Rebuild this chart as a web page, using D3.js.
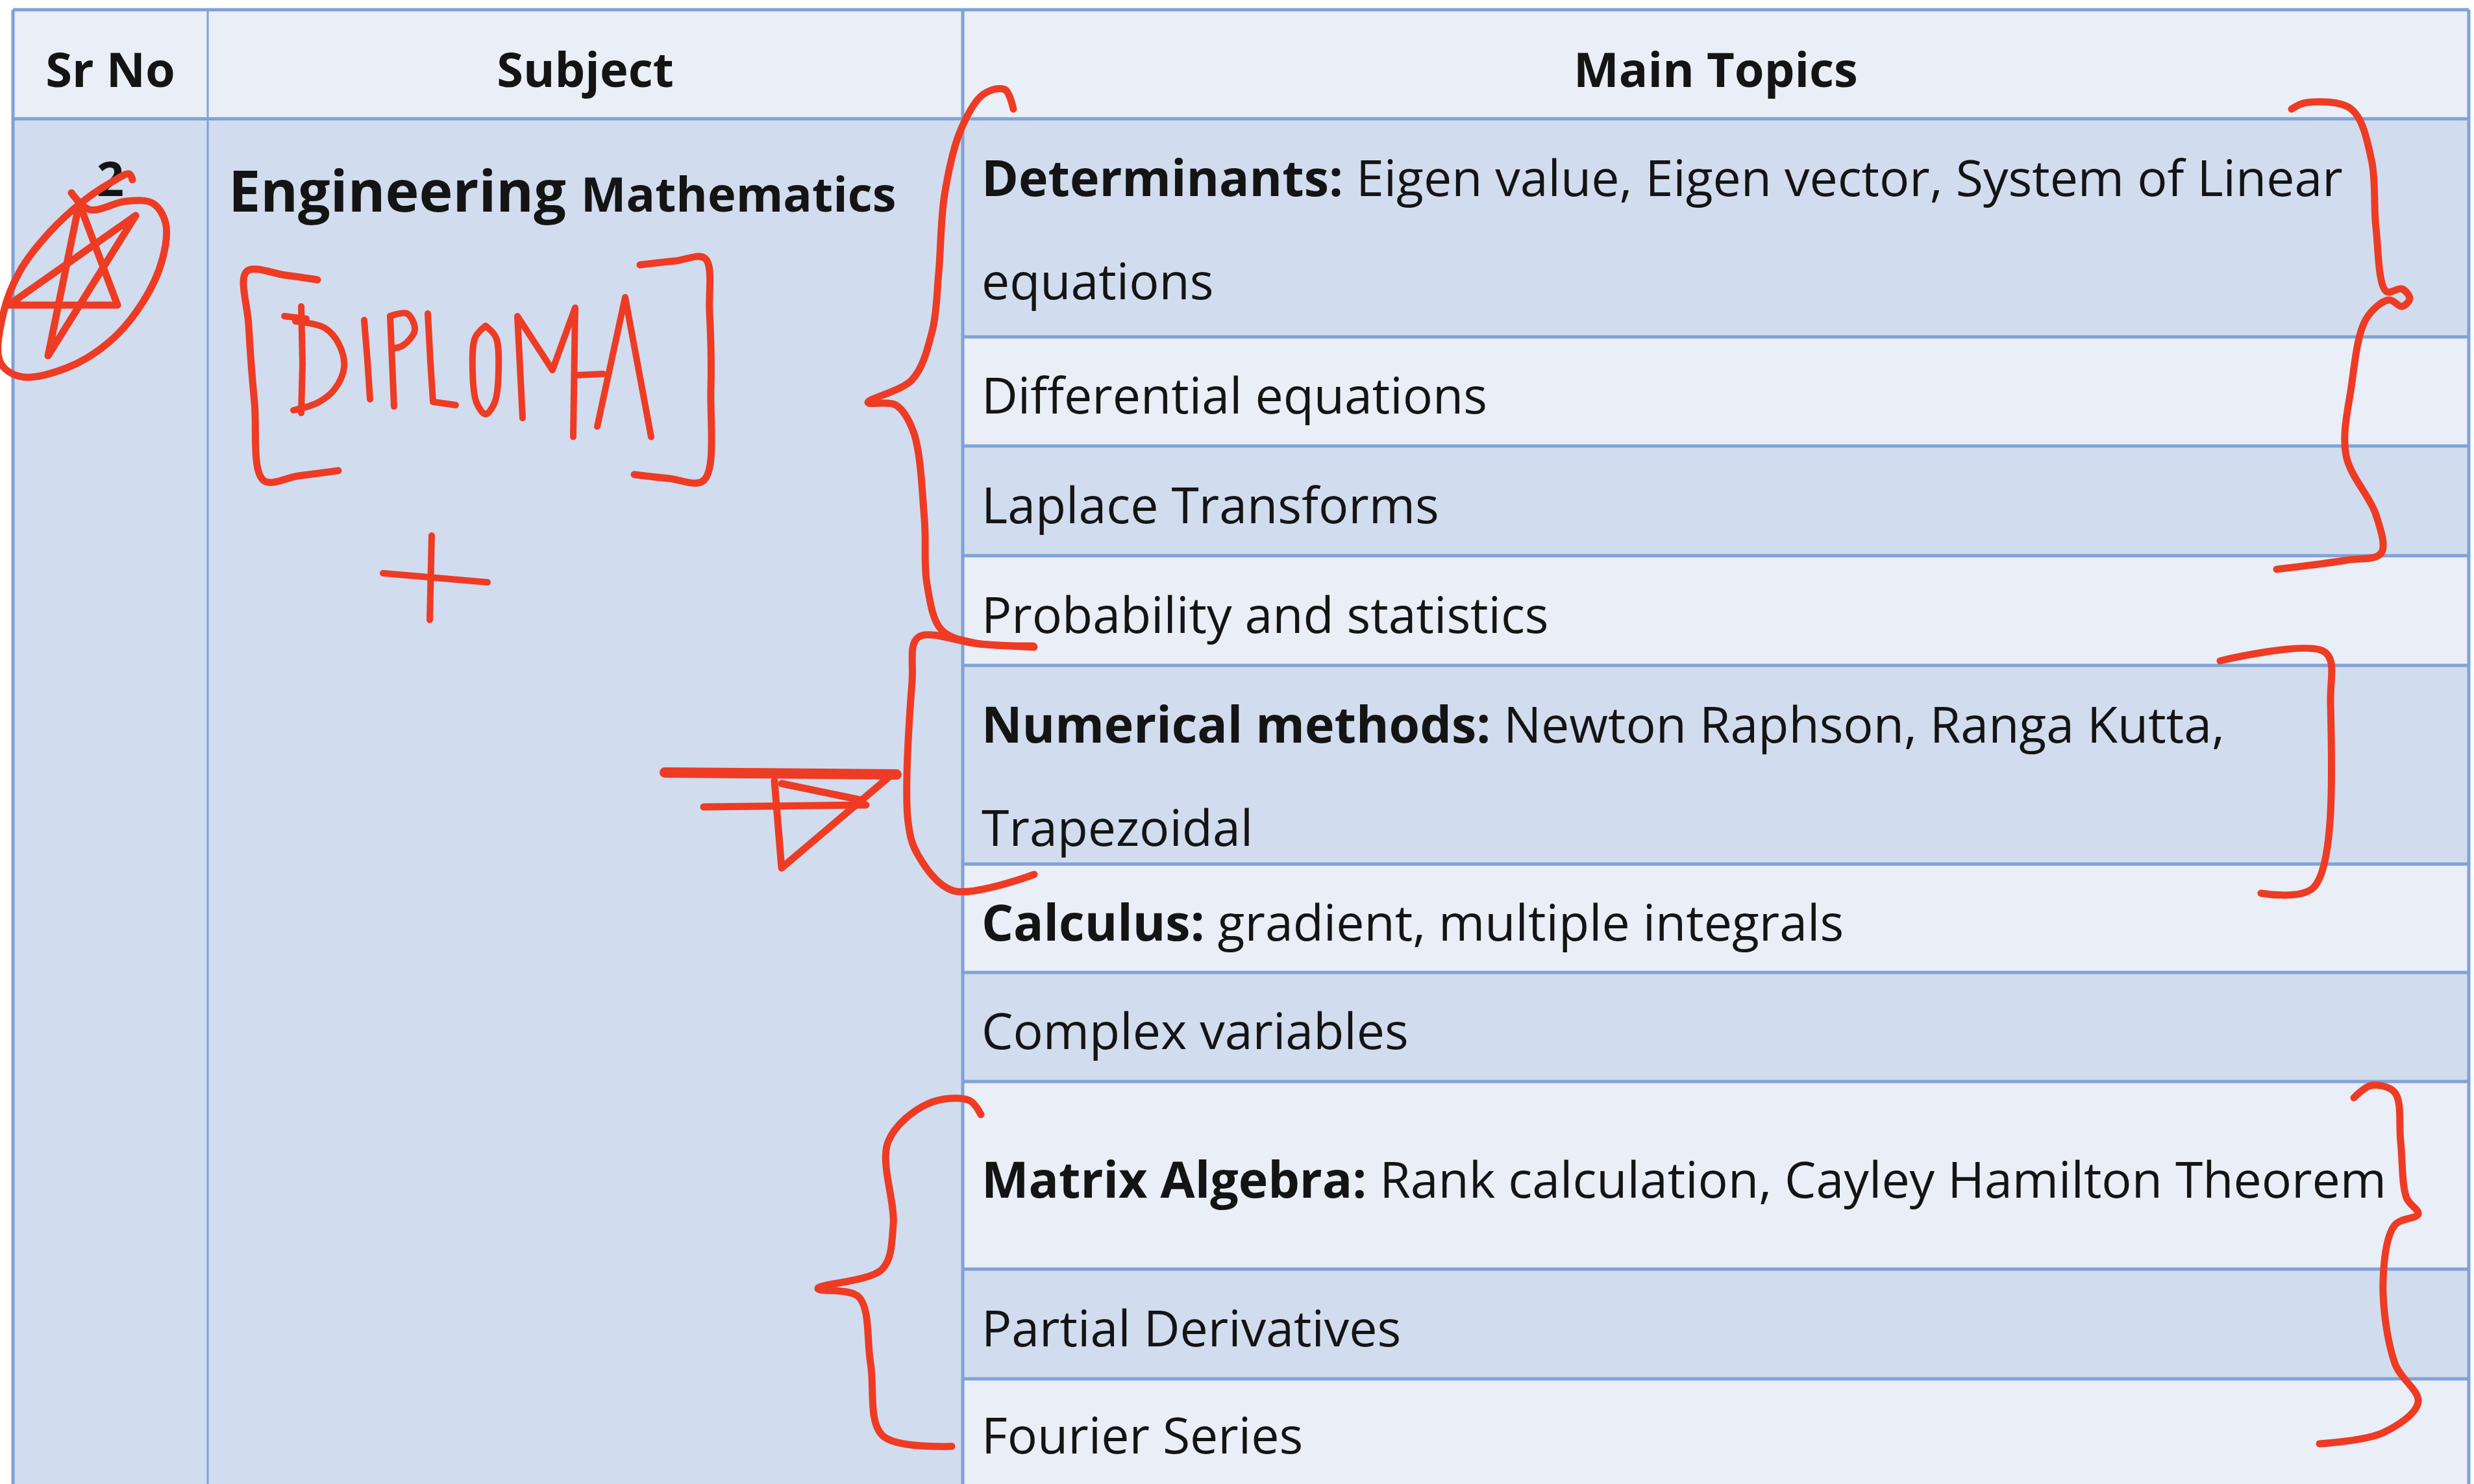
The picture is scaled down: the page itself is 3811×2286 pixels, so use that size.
<!DOCTYPE html>
<html lang="en">
<head>
<meta charset="utf-8">
<title>Engineering Mathematics - main topics</title>
<script src="https://cdn.jsdelivr.net/npm/d3@7"></script>
<style>
  html, body { margin: 0; padding: 0; background: #fff; }
  svg text { font-family: "Open Sans", Lato, sans-serif; white-space: pre; fill: #141414; }
</style>
</head>
<body>
<script>

// table content
var headers = ["Sr No", "Subject", "Main Topics"];
var srNo = "2";
var subjectWords = ["Engineering", "Mathematics"];
var topicHeads = ["Determinants:", "", "", "", "Numerical methods:", "Calculus:", "", "Matrix Algebra:", "", ""];
var topicBodies = [
  "Eigen value, Eigen vector, System of Linear\nequations",
  "Differential equations",
  "Laplace Transforms",
  "Probability and statistics",
  "Newton Raphson, Ranga Kutta,\nTrapezoidal",
  "gradient, multiple integrals",
  "Complex variables",
  "Rank calculation, Cayley Hamilton Theorem",
  "Partial Derivatives",
  "Fourier Series"
];

// layout
var W = 3811, H = 2286;
var colEdges = [20, 320, 1483, 3803];
var tableTop = 15, headerH = 168;
var rowHeights = [336, 168, 169, 169, 306, 167, 168, 289, 169, 162];
var lineGap = 159;
var headSize = 74, bodySize = 77;

// red pen strokes drawn over the table (picture pixels)
var ink = [
  { smooth: true, w: 11, pts: [[110,297],[138,323],[194,310],[235,313],[255,343],[250,400],[219,467],[168,527],[102,567],[31,580],[0,557],[5,483],[31,417],[77,357],[128,310],[168,283],[199,268],[204,277]] },
  { smooth: false, w: 11, pts: [[122,313],[181,470],[13,470],[209,332],[74,548],[122,313]] },
  // DIPLOMA with its brackets and the plus
  { smooth: true, w: 11, pts: [[489,431],[440,424],[380,418],[383,500],[392,620],[406,740],[460,733],[521,725]] },
  { smooth: true, w: 11, pts: [[986,408],[1040,402],[1086,398],[1093,480],[1095,600],[1084,740],[1030,737],[977,731]] },
  { smooth: false, w: 10, pts: [[464,472],[466,560],[464,636]] },
  { smooth: false, w: 10, pts: [[438,487],[472,491]] },
  { smooth: true, w: 10, pts: [[455,495],[500,505],[522,530],[530,566],[515,600],[490,620],[452,632]] },
  { smooth: false, w: 10, pts: [[561,493],[566,555],[570,615]] },
  { smooth: false, w: 10, pts: [[607,626],[601,487]] },
  { smooth: true, w: 10, pts: [[601,487],[627,483],[639,508],[621,532],[603,537]] },
  { smooth: false, w: 10, pts: [[659,483],[663,557],[667,619],[702,624]] },
  { smooth: true, w: 10, pts: [[748,502],[764,520],[768,570],[762,620],[748,638],[734,620],[728,570],[732,520],[748,502]] },
  { smooth: false, w: 10, pts: [[805,644],[797,487],[851,570],[886,474],[883,673]] },
  { smooth: false, w: 10, pts: [[920,657],[963,458],[1003,673]] },
  { smooth: false, w: 10, pts: [[886,578],[929,576]] },
  { smooth: false, w: 10, pts: [[665,825],[662,955]] },
  { smooth: false, w: 10, pts: [[590,883],[751,897]] },
  // braces and brackets around topic groups
  { smooth: true, w: 11, pts: [[1561,168],[1548,138],[1515,145],[1480,200],[1455,300],[1446,420],[1436,510],[1405,585],[1337,620],[1380,624],[1407,665],[1424,800],[1428,900],[1450,970],[1500,990],[1592,995]] },
  { smooth: true, w: 11, pts: [[3530,168],[3553,158],[3622,168],[3653,246],[3660,351],[3676,449],[3700,445],[3712,460],[3700,472],[3680,462],[3645,491],[3622,596],[3614,702],[3660,793],[3668,852],[3614,863],[3507,877]] },
  { smooth: true, w: 11, pts: [[1593,997],[1508,992],[1414,982],[1405,1050],[1399,1267],[1414,1317],[1468,1372],[1593,1347]] },
  { smooth: false, w: 16, pts: [[1024,1190],[1381,1193]] },
  { smooth: false, w: 11, pts: [[1084,1243],[1334,1240]] },
  { smooth: false, w: 11, pts: [[1193,1203],[1204,1337],[1374,1193]] },
  { smooth: false, w: 11, pts: [[1204,1207],[1329,1233]] },
  { smooth: true, w: 11, pts: [[3420,1018],[3582,1005],[3590,1078],[3564,1367],[3483,1376]] },
  { smooth: true, w: 11, pts: [[1511,1717],[1493,1695],[1430,1700],[1368,1759],[1376,1887],[1359,1955],[1260,1985],[1323,1998],[1341,2100],[1359,2211],[1466,2228]] },
  { smooth: true, w: 11, pts: [[3626,1691],[3653,1672],[3689,1683],[3698,1759],[3707,1845],[3725,1870],[3689,1887],[3671,1972],[3689,2100],[3725,2160],[3671,2207],[3573,2224]] }
];

var fillHeader = "#eaeef6", fillDark = "#d1dcee", fillLight = "#e9eef7";
var lineColor = "#7fa2d6", penColor = "#ee3b24";

var svg = d3.select("body").append("svg")
    .attr("width", W)
    .attr("height", H)
    .style("display", "block");

svg.append("rect").attr("width", W).attr("height", H).attr("fill", "#fff");

// row positions
var bodyTop = tableTop + headerH;
var tops = [bodyTop].concat(Array.from(d3.cumsum(rowHeights), function(v) { return bodyTop + v; }));
var rowY = d3.scaleOrdinal().domain(d3.range(tops.length)).range(tops);
var colX = d3.scaleOrdinal().domain(d3.range(colEdges.length)).range(colEdges);
var lastRow = topicBodies.length - 1;

// header band
svg.append("rect")
    .attr("x", colX(0)).attr("y", tableTop)
    .attr("width", colX(3) - colX(0)).attr("height", headerH)
    .attr("fill", fillHeader);

// merged Sr No / Subject cell
svg.append("rect")
    .attr("x", colX(0)).attr("y", bodyTop)
    .attr("width", colX(2) - colX(0)).attr("height", H - bodyTop)
    .attr("fill", fillDark);

// topic rows
var rows = svg.selectAll("g.topic")
    .data(topicBodies)
    .enter()
    .append("g")
    .attr("class", "topic");

rows.append("rect")
    .attr("x", colX(2))
    .attr("y", function(d, i) { return rowY(i); })
    .attr("width", colX(3) - colX(2))
    .attr("height", function(d, i) { return i === lastRow ? H - rowY(i) : rowHeights[i]; })
    .attr("fill", function(d, i) { return i % 2 === 0 ? fillDark : fillLight; });

rows.each(function(d, i) {
  var lines = d.split("\n");
  // two-line cells start near the top, single lines sit in the middle
  var first = lines.length > 1 ? rowY(i) + 119 : rowY(i) + rowHeights[i] / 2 + 34;
  var g = d3.select(this);
  lines.forEach(function(line, k) {
    var t = g.append("text")
        .attr("x", colX(2) + 29)
        .attr("y", first + k * lineGap)
        .attr("font-size", bodySize);
    if (k === 0 && topicHeads[i]) {
      t.append("tspan").attr("font-weight", 700).text(topicHeads[i] + " ");
    }
    t.append("tspan").text(line);
  });
});

// grid lines
var hLines = [tableTop].concat(tops.slice(0, -1));
svg.selectAll("line.h")
    .data(hLines)
    .enter()
    .append("line")
    .attr("x1", function(d, i) { return i < 2 ? colX(0) : colX(2); })
    .attr("x2", colX(3))
    .attr("y1", function(d) { return d; })
    .attr("y2", function(d) { return d; })
    .attr("stroke", lineColor)
    .attr("stroke-width", 5);

svg.selectAll("line.v")
    .data(colEdges)
    .enter()
    .append("line")
    .attr("x1", function(d) { return d; })
    .attr("x2", function(d) { return d; })
    .attr("y1", tableTop)
    .attr("y2", H)
    .attr("stroke", lineColor)
    .attr("stroke-width", function(d, i) { return i === 1 ? 3 : 5; });

// header labels
svg.selectAll("text.head")
    .data(headers)
    .enter()
    .append("text")
    .attr("class", "head")
    .attr("x", function(d, i) { return (colX(i) + colX(i + 1)) / 2; })
    .attr("y", tableTop + headerH / 2 + 35)
    .attr("text-anchor", "middle")
    .attr("font-size", headSize)
    .attr("font-weight", 700)
    .text(function(d) { return d; });

svg.append("text")
    .attr("x", (colX(0) + colX(1)) / 2)
    .attr("y", rowY(0) + 119)
    .attr("text-anchor", "middle")
    .attr("font-size", headSize)
    .attr("font-weight", 700)
    .text(srNo);

var subj = svg.append("text")
    .attr("x", colX(1) + 32)
    .attr("y", rowY(0) + 143)
    .attr("font-weight", 700);
subj.append("tspan").attr("font-size", 88).text(subjectWords[0] + " ");
subj.append("tspan").attr("font-size", 74).text(subjectWords[1]);

// pen annotations
var smoothLine = d3.line().curve(d3.curveCatmullRom.alpha(0.5));
var straightLine = d3.line();

svg.append("g")
    .selectAll("path")
    .data(ink)
    .enter()
    .append("path")
    .attr("d", function(d) { return (d.smooth ? smoothLine : straightLine)(d.pts); })
    .attr("fill", "none")
    .attr("stroke", penColor)
    .attr("stroke-width", function(d) { return d.w; })
    .attr("stroke-linecap", "round")
    .attr("stroke-linejoin", "round");

</script>
</body>
</html>
